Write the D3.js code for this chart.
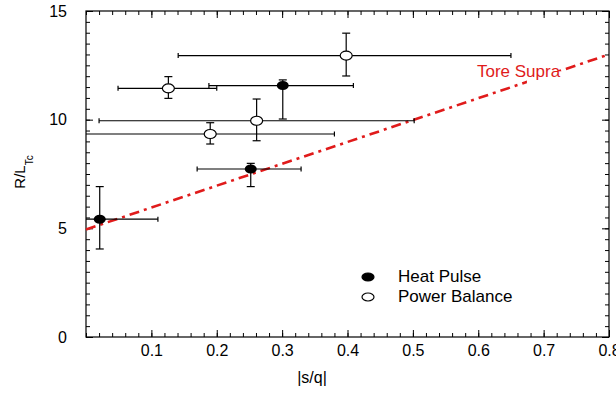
<!DOCTYPE html>
<html>
<head>
<meta charset="utf-8">
<script src="https://cdn.jsdelivr.net/npm/d3@7"></script>
<style>
  body { margin: 0; background: #fff; }
  svg { font-family: Arial, "Liberation Sans", sans-serif; }
</style>
</head>
<body>
<div id="chart"></div>
<script>
// Heat pulse points: x, y, x error low/high, y error low/high
const heatX = [0.021, 0.252, 0.301];
const heatY = [5.42, 7.73, 11.57];
const heatXlo = [0.0, 0.170, 0.188];
const heatXhi = [0.110, 0.329, 0.409];
const heatYlo = [4.05, 6.92, 10.03];
const heatYhi = [6.92, 7.99, 11.83];

// Power balance points
const powX = [0.126, 0.190, 0.261, 0.398];
const powY = [11.44, 9.34, 9.95, 12.95];
const powXlo = [0.049, 0.0, 0.020, 0.141];
const powXhi = [0.200, 0.380, 0.502, 0.650];
const powYlo = [10.98, 8.88, 9.03, 12.01];
const powYhi = [11.98, 9.86, 10.95, 13.98];

// Tore Supra fit line endpoints
const fitX = [0, 0.8];
const fitY = [4.95, 13.0];

const xTicks = [0.1, 0.2, 0.3, 0.4, 0.5, 0.6, 0.7, 0.8];
const yTicks = [0, 5, 10, 15];

const width = 616, height = 393;
const margin = { top: 11, right: 7, bottom: 56, left: 86 };
const innerWidth = width - margin.left - margin.right,
      innerHeight = height - margin.top - margin.bottom;

const svg = d3.select("#chart").append("svg")
    .attr("width", width)
    .attr("height", height);

const g = svg.append("g")
    .attr("transform", "translate(" + margin.left + "," + margin.top + ")");

const xScale = d3.scaleLinear().domain([0, 0.8]).range([0, innerWidth]);
const yScale = d3.scaleLinear().domain([0, 15]).range([innerHeight, 0]);

// minor ticks
const xMinor = d3.range(0, 0.8001, 0.02);
const yMinor = d3.range(0, 15.001, 0.5);

function styleAxis(sel) {
    sel.select(".domain").remove();
    sel.selectAll("line").attr("stroke", "#000").attr("stroke-width", 1);
}

// bottom & top axes, ticks inward
g.append("g").attr("transform", "translate(0," + innerHeight + ")")
    .call(d3.axisBottom(xScale).tickValues(xMinor).tickSize(-4).tickFormat(""))
    .call(styleAxis);
g.append("g").attr("transform", "translate(0," + innerHeight + ")")
    .call(d3.axisBottom(xScale).tickValues(xTicks).tickSize(-7).tickPadding(8).tickFormat(d3.format(".1f")))
    .call(styleAxis)
    .selectAll("text").style("font-size", "16px").attr("fill", "#000");
g.append("g")
    .call(d3.axisTop(xScale).tickValues(xMinor).tickSize(-4).tickFormat(""))
    .call(styleAxis);
g.append("g")
    .call(d3.axisTop(xScale).tickValues(xTicks).tickSize(-7).tickFormat(""))
    .call(styleAxis);

// left & right axes
g.append("g")
    .call(d3.axisLeft(yScale).tickValues(yMinor).tickSize(-4).tickFormat(""))
    .call(styleAxis);
g.append("g")
    .call(d3.axisLeft(yScale).tickValues(yTicks).tickSize(-7).tickPadding(19).tickFormat(d3.format("d")))
    .call(styleAxis)
    .selectAll("text").style("font-size", "16px").attr("fill", "#000");
g.append("g").attr("transform", "translate(" + innerWidth + ",0)")
    .call(d3.axisRight(yScale).tickValues(yMinor).tickSize(-4).tickFormat(""))
    .call(styleAxis);
g.append("g").attr("transform", "translate(" + innerWidth + ",0)")
    .call(d3.axisRight(yScale).tickValues(yTicks).tickSize(-7).tickFormat(""))
    .call(styleAxis);

// frame
g.append("rect")
    .attr("width", innerWidth)
    .attr("height", innerHeight)
    .attr("fill", "none")
    .attr("stroke", "#000")
    .attr("stroke-width", 1.2);

// fit line
const fit = fitX.map((x, i) => [x, fitY[i]]);
g.append("path")
    .attr("fill", "none")
    .attr("stroke", "#e01b1b")
    .attr("stroke-width", 2.6)
    .attr("stroke-dasharray", "10,5,3,5")
    .attr("d", d3.line().x(d => xScale(d[0])).y(d => yScale(d[1]))(fit));

// label sits in a gap of the line
const toreX = xScale(0.598), toreY = yScale(11.95);
g.append("rect")
    .attr("x", toreX + 50)
    .attr("y", toreY - 6)
    .attr("width", 42)
    .attr("height", 16)
    .attr("fill", "#fff");
g.append("text")
    .attr("x", toreX)
    .attr("y", toreY)
    .attr("fill", "#e01b1b")
    .style("font-size", "17px")
    .text("Tore Supra");

// error bars
function errorBars(xs, ys, xlo, xhi, ylo, yhi) {
    xs.forEach(function(x, i) {
        const eb = g.append("g").attr("stroke", "#000").attr("stroke-width", 1.2);
        const cx = xScale(x), cy = yScale(ys[i]);
        const x0 = xScale(xlo[i]), x1 = xScale(xhi[i]);
        const y0 = yScale(ylo[i]), y1 = yScale(yhi[i]);
        eb.append("line").attr("x1", x0).attr("x2", x1).attr("y1", cy).attr("y2", cy);
        eb.append("line").attr("x1", cx).attr("x2", cx).attr("y1", y0).attr("y2", y1);
        if (xlo[i] > 0) eb.append("line").attr("x1", x0).attr("x2", x0).attr("y1", cy - 2.5).attr("y2", cy + 2.5);
        eb.append("line").attr("x1", x1).attr("x2", x1).attr("y1", cy - 2.5).attr("y2", cy + 2.5);
        eb.append("line").attr("x1", cx - 4).attr("x2", cx + 4).attr("y1", y0).attr("y2", y0);
        eb.append("line").attr("x1", cx - 4).attr("x2", cx + 4).attr("y1", y1).attr("y2", y1);
    });
}
errorBars(heatX, heatY, heatXlo, heatXhi, heatYlo, heatYhi);
errorBars(powX, powY, powXlo, powXhi, powYlo, powYhi);

// markers
g.selectAll(".heat").data(heatX).enter().append("ellipse")
    .attr("cx", d => xScale(d))
    .attr("cy", (d, i) => yScale(heatY[i]))
    .attr("rx", 6).attr("ry", 4.5)
    .attr("fill", "#000");
g.selectAll(".pow").data(powX).enter().append("ellipse")
    .attr("cx", d => xScale(d))
    .attr("cy", (d, i) => yScale(powY[i]))
    .attr("rx", 6).attr("ry", 4.5)
    .attr("fill", "#fff")
    .attr("stroke", "#000")
    .attr("stroke-width", 1.2);

// legend
const legend = g.append("g")
    .attr("transform", "translate(" + (368 - margin.left) + "," + (277 - margin.top) + ")");
const legendLabels = ["Heat Pulse", "Power Balance"];
legendLabels.forEach(function(d, i) {
    const row = legend.append("g").attr("transform", "translate(0," + (i * 20) + ")");
    row.append("ellipse")
        .attr("rx", 6).attr("ry", 4)
        .attr("fill", i === 0 ? "#000" : "#fff")
        .attr("stroke", "#000")
        .attr("stroke-width", 1.2);
    row.append("text")
        .attr("x", 30)
        .attr("y", 5)
        .style("font-size", "17px")
        .text(d);
});

// axis labels
svg.append("text")
    .attr("x", 312)
    .attr("y", 383)
    .attr("text-anchor", "middle")
    .style("font-size", "16px")
    .text("|s/q|");

const yLab = svg.append("text")
    .attr("transform", "translate(25,172) rotate(-90)")
    .attr("text-anchor", "middle")
    .style("font-size", "15px");
yLab.append("tspan").text("R/L");
yLab.append("tspan").attr("dy", 8).style("font-size", "10px").text("Tc");
</script>
</body>
</html>
